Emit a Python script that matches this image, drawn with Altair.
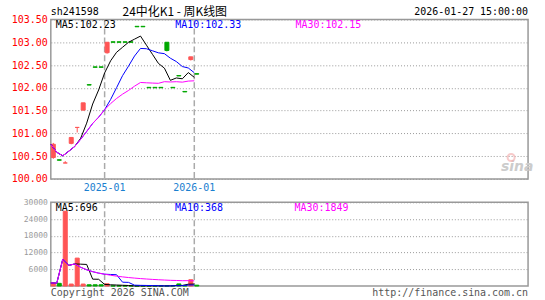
import altair as alt
import pandas as pd

# ---------------- data ----------------
week_index = list(range(25))
open_ = [100.47, 100.42, 100.35, 100.78, 101.13, 101.51, 102.07, 102.46, 102.46, 102.77,
         103.01, 103.01, 103.01, 103.01, 103.35, 103.35, 102.01, 102.01, 102.01, 103.00,
         102.01, 102.27, 101.92, 102.62, 102.31]
close = [100.76, 100.41, 100.35, 100.91, 101.13, 101.67, 102.06, 102.45, 102.45, 103.00,
         103.00, 103.00, 103.00, 103.00, 103.34, 103.34, 102.00, 102.00, 102.00, 102.82,
         102.00, 102.26, 101.91, 102.68, 102.30]
high = [100.79, 100.42, 100.39, 100.91, 101.13, 101.67, 102.07, 102.46, 102.46, 103.00,
        103.01, 103.01, 103.01, 103.01, 103.35, 103.35, 102.01, 102.01, 102.01, 103.00,
        102.01, 102.27, 101.92, 102.68, 102.31]
low = [100.44, 100.41, 100.35, 100.76, 101.02, 101.50, 102.06, 102.45, 102.45, 102.75,
       103.00, 103.00, 103.00, 103.00, 103.34, 103.34, 102.00, 102.00, 102.00, 102.80,
       102.00, 102.26, 101.91, 102.60, 102.30]
volume = [1100, 950, 26800, 700, 10000, 700, 450, 450, 450, 800,
          30, 30, 30, 30, 30, 40, 40, 40, 40, 40,
          80, 750, 100, 2250, 300]

price_ticks = [100.0, 100.5, 101.0, 101.5, 102.0, 102.5, 103.0, 103.5]
vol_ticks = [6000, 12000, 18000, 24000, 30000]
date_pos = [9, 24]
date_labels = ["2025-01", "2026-01"]

code = "sh241598"
title_text = "24中化K1 - 周K线图"
stamp = "2026-01-27 15:00:00"

# ---------------- derived table ----------------
df = pd.DataFrame({"i": week_index, "open": open_, "close": close,
                   "high": high, "low": low, "vol": volume})
df["dir"] = ["up" if c >= o else "down" for o, c in zip(open_, close)]
for n in (5, 10, 30):
    df[f"ma{n}"] = df["close"].rolling(n, min_periods=1).mean()
    df[f"vma{n}"] = df["vol"].rolling(n, min_periods=1).mean()

dates = pd.DataFrame({"i": date_pos, "label": date_labels})
one = pd.DataFrame({"a": [0]})

W, H1, H2 = 479, 160, 84
xs = alt.Scale(domain=[0, W / 6])
ys_main = alt.Scale(domain=[100, 103.5])
ys_vol = alt.Scale(domain=[0, 30000])
col_scale = alt.Scale(domain=["up", "down"], range=["#ff5555", "#00a800"])
MONO = "DejaVu Sans Mono"

axis_main = alt.Axis(values=price_ticks, format=".2f", title=None, ticks=False, tickSize=0,
                     domain=False, labelColor="#ff0000", labelFont=MONO, labelFontSize=10,
                     labelPadding=3.5, labelOverlap=False, labelFlush=False,
                     grid=True, gridColor="#999999", gridDash=[1, 2], gridWidth=1)
axis_vol = alt.Axis(values=vol_ticks, format="d", title=None, ticks=False, tickSize=0,
                    domain=False, labelColor="#999999", labelFont=MONO, labelFontSize=8,
                    labelPadding=3.5, labelOverlap=False, labelFlush=False,
                    grid=True, gridColor="#999999", gridDash=[1, 2], gridWidth=1)

base = alt.Chart(df).transform_calculate(
    xc="datum.i + 2.5/6", xl="datum.i + 0.5/6", xr="datum.i + 4.5/6", zero="0")

# ---------------- main (price) panel ----------------
canvas = alt.Chart(one).mark_rect(opacity=0).encode(
    x=alt.value(-50), x2=alt.value(495), y=alt.value(-17.5), y2=alt.value(282.5))

vrule = alt.Chart(dates).mark_rule(color="#aaaaaa", strokeDash=[6, 3], strokeWidth=1.5).encode(
    x=alt.X("i:Q", scale=xs, axis=None))

wick = base.mark_rule(strokeWidth=1).encode(
    x=alt.X("xc:Q", scale=xs, axis=None),
    y=alt.Y("low:Q", scale=ys_main, axis=axis_main),
    y2="high:Q",
    color=alt.Color("dir:N", scale=col_scale, legend=None))

body = base.mark_rect(strokeWidth=1).encode(
    x=alt.X("xl:Q", scale=xs, axis=None), x2="xr:Q",
    y=alt.Y("open:Q", scale=ys_main, axis=axis_main), y2="close:Q",
    fill=alt.Fill("dir:N", scale=col_scale, legend=None),
    stroke=alt.Stroke("dir:N", scale=col_scale, legend=None))


def ma_line(b, field, color, ys, ax):
    return b.mark_line(color=color, strokeWidth=1).encode(
        x=alt.X("i:Q", scale=xs, axis=None),
        y=alt.Y(f"{field}:Q", scale=ys, axis=ax))


def label(txt, x, y, color, size=10, align="left", font=MONO, **kw):
    return alt.Chart(one).mark_text(align=align, baseline="middle", font=font,
                                    fontSize=size, color=color, **kw).encode(
        x=alt.value(x), y=alt.value(y), text=alt.value(txt))


date_txt = alt.Chart(dates).mark_text(baseline="middle", font=MONO, fontSize=10,
                                      color="#1a80d0").encode(
    x=alt.X("i:Q", scale=xs, axis=None), y=alt.value(H1 + 9.5), text="label:N")

last = df.iloc[-1]
main = alt.layer(
    canvas, vrule, wick, body,
    ma_line(base, "ma5", "#000000", ys_main, axis_main),
    ma_line(base, "ma10", "#0000ff", ys_main, axis_main),
    ma_line(base, "ma30", "#ff00ff", ys_main, axis_main),
    label(f"MA5:{last['ma5']:.2f}", 5, 5.5, "#000000"),
    label(f"MA10:{last['ma10']:.2f}", 125, 5.5, "#0000ff"),
    label(f"MA30:{last['ma30']:.2f}", 245.5, 5.5, "#ff00ff"),
    date_txt,
    label(code, 0, -7, "#000000"),
    label(title_text, 72, -7, "#000000", size=12, font="Noto Sans CJK SC"),
    label(stamp, W, -7, "#000000", align="right"),
    label("sina", 468, 148.5, "#cccccc", size=14, align="center", font="DejaVu Sans",
          fontStyle="italic", fontWeight="bold"),
    alt.Chart(one).mark_point(color="#f4b4b4", size=50, strokeWidth=2).encode(
        x=alt.value(462), y=alt.value(138.5)),
).properties(width=W, height=H1)

# ---------------- volume panel ----------------
vrule2 = alt.Chart(dates).mark_rule(color="#aaaaaa", strokeDash=[6, 3], strokeWidth=1.5).encode(
    x=alt.X("i:Q", scale=xs, axis=None))

bars = base.mark_rect(strokeWidth=1).encode(
    x=alt.X("xl:Q", scale=xs, axis=None), x2="xr:Q",
    y=alt.Y("vol:Q", scale=ys_vol, axis=axis_vol), y2="zero:Q",
    fill=alt.Fill("dir:N", scale=col_scale, legend=None),
    stroke=alt.Stroke("dir:N", scale=col_scale, legend=None))

vol = alt.layer(
    vrule2, bars,
    ma_line(base, "vma5", "#000000", ys_vol, axis_vol),
    ma_line(base, "vma10", "#0000ff", ys_vol, axis_vol),
    ma_line(base, "vma30", "#ff00ff", ys_vol, axis_vol),
    label(f"MA5:{last['vma5']:.0f}", 5, 5.7, "#000000"),
    label(f"MA10:{last['vma10']:.0f}", 124.7, 5.7, "#0000ff"),
    label(f"MA30:{last['vma30']:.0f}", 244.7, 5.7, "#ff00ff"),
    label("Copyright 2026 SINA.COM", 0, 91.3, "#555555"),
    label("http://finance.sina.com.cn", W, 91.3, "#555555", align="right"),
).properties(width=W, height=H2)

chart = alt.vconcat(main, vol, spacing=23.5, bounds="flush").resolve_scale(
    y="independent").properties(padding=0, background="white").configure_view(
    stroke="#999999", strokeWidth=1.5)

chart.save("out.html", embed_options={"renderer": "svg", "actions": False})
